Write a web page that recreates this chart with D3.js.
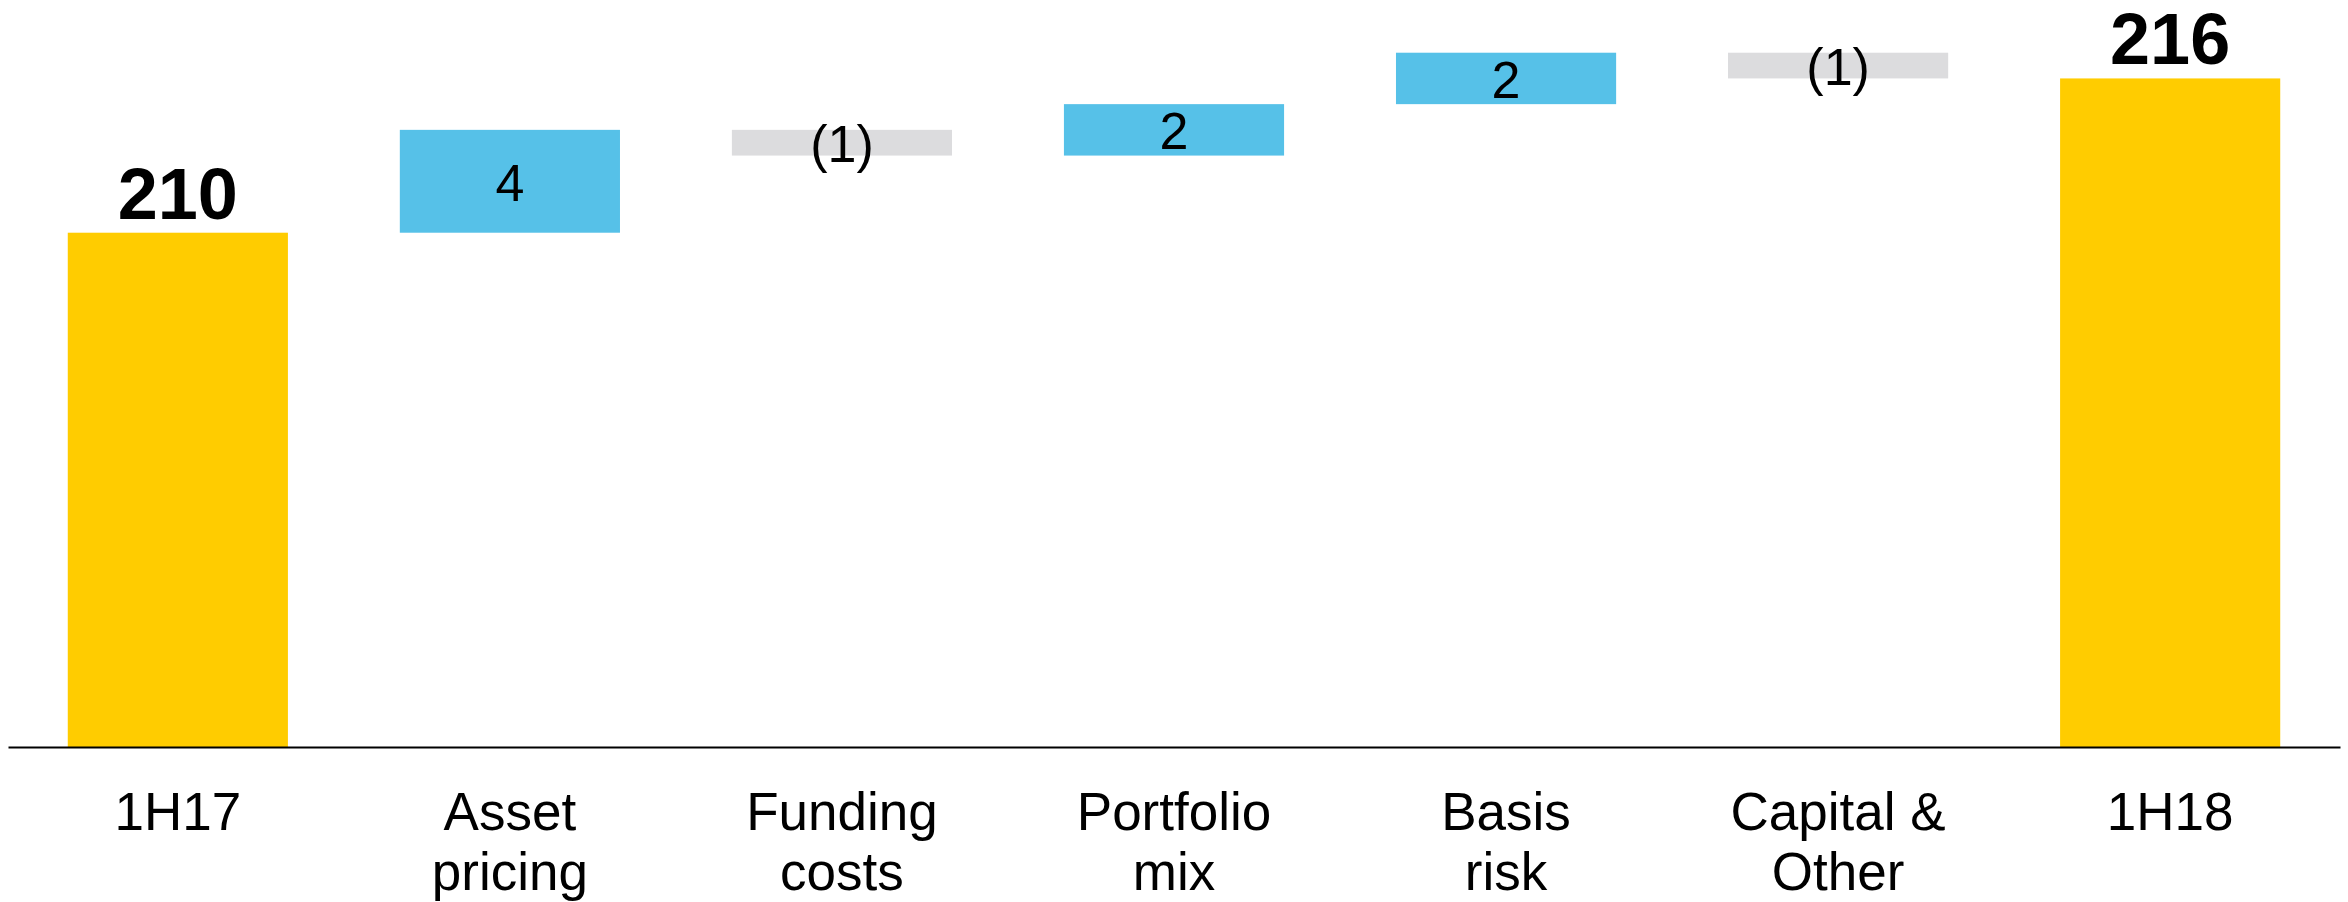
<!DOCTYPE html>
<html>
<head>
<meta charset="utf-8">
<script src="https://cdn.jsdelivr.net/npm/d3@7"></script>
<style>
  body { margin: 0; background: #fff; }
  svg { display: block; font-family: "Liberation Sans", Arial, sans-serif; }
</style>
</head>
<body>
<div id="chart"></div>
<script>
// waterfall: 1H17 -> drivers -> 1H18

const categories = [["1H17"], ["Asset", "pricing"], ["Funding", "costs"], ["Portfolio", "mix"], ["Basis", "risk"], ["Capital &", "Other"], ["1H18"]];
const values = [210, 4, -1, 2, 2, -1, 216];
const kinds = ["total", "delta", "delta", "delta", "delta", "delta", "total"];
const yDomain = [190, 219.05];

const width = 2348;
const height = 902;
const baseY = 747;

const color = { total: "#FFCC00", up: "#56C1E8", down: "#DCDCDE" };

// build the floating segments
let running = 0;
const bars = values.map((v, i) => {
  const kind = kinds[i];
  let lo, hi, type;
  if (kind === "total") {
    lo = yDomain[0]; hi = v; running = v; type = "total";
  } else {
    const start = running;
    running += v;
    lo = Math.min(start, running); hi = Math.max(start, running);
    type = v >= 0 ? "up" : "down";
  }
  return { i, v, kind, lo, hi, type };
});

const svg = d3.select("#chart").append("svg")
  .attr("width", width)
  .attr("height", height);

const x = d3.scaleBand()
  .domain(d3.range(categories.length))
  .range([8, 2340])
  .paddingInner(0.337)
  .paddingOuter(0.18);

const y = d3.scaleLinear()
  .domain(yDomain)
  .range([baseY, 0]);

// bars
svg.append("g")
  .selectAll("rect")
  .data(bars)
  .join("rect")
  .attr("x", d => x(d.i))
  .attr("width", x.bandwidth())
  .attr("y", d => y(d.hi))
  .attr("height", d => y(d.lo) - y(d.hi))
  .attr("fill", d => color[d.type]);

// axis line only
const axis = svg.append("g")
  .attr("transform", `translate(0,${baseY})`)
  .call(d3.axisBottom(x).tickSize(0).tickSizeOuter(0).tickFormat(""));
axis.select(".domain").attr("stroke", "#000").attr("stroke-width", 2);

// category labels (two lines)
const lab = svg.append("g")
  .selectAll("text")
  .data(categories)
  .join("text")
  .attr("text-anchor", "middle")
  .attr("font-size", 53)
  .attr("fill", "#000");
lab.each(function (lines, i) {
  d3.select(this).selectAll("tspan")
    .data(lines)
    .join("tspan")
    .attr("x", x(i) + x.bandwidth() / 2)
    .attr("y", (d, k) => 830 + k * 60)
    .text(d => d);
});

// total labels above the bars
svg.append("g")
  .selectAll("text")
  .data(bars.filter(d => d.kind === "total"))
  .join("text")
  .attr("x", d => x(d.i) + x.bandwidth() / 2)
  .attr("y", d => y(d.hi) - 14)
  .attr("text-anchor", "middle")
  .attr("font-size", 72)
  .attr("font-weight", "bold")
  .attr("fill", "#000")
  .text(d => d.v);

// delta labels centred in the bars
svg.append("g")
  .selectAll("text")
  .data(bars.filter(d => d.kind === "delta"))
  .join("text")
  .attr("x", d => x(d.i) + x.bandwidth() / 2)
  .attr("y", d => (y(d.lo) + y(d.hi)) / 2)
  .attr("dy", "0.37em")
  .attr("text-anchor", "middle")
  .attr("font-size", 52)
  .attr("fill", "#000")
  .text(d => d.v < 0 ? `(${-d.v})` : d.v);
</script>
</body>
</html>
